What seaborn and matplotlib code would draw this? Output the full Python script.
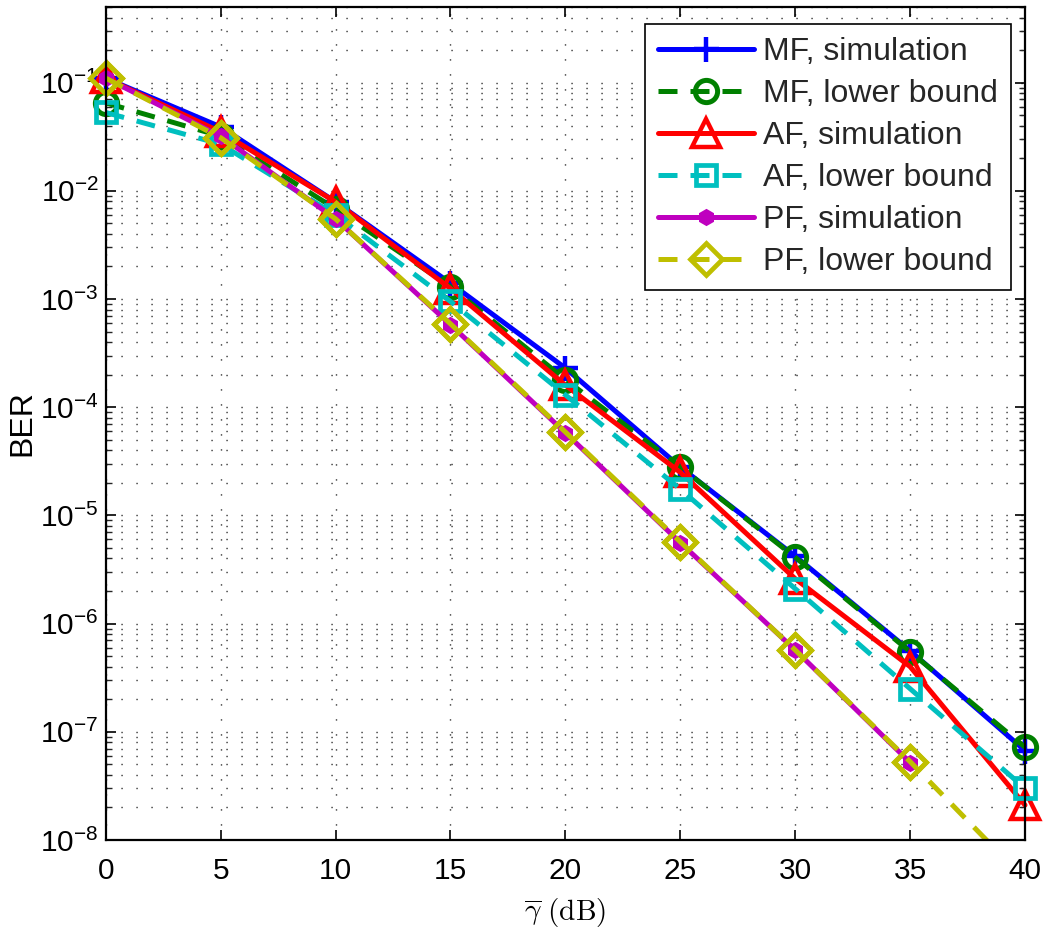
import numpy as np
import pandas as pd
import matplotlib
matplotlib.use("Agg")
import matplotlib.pyplot as plt
import seaborn as sns
from matplotlib.ticker import LogLocator, FixedLocator

# ---- data ----
snr_db = [0, 5, 10, 15, 20, 25, 30, 35, 40]
snr_pf = [0, 5, 10, 15, 20, 25, 30, 35]
mf_sim = [0.11, 0.039, 0.0079, 1.4e-3, 2.3e-4, 2.8e-5, 4.2e-6, 5.6e-7, 6.7e-8]
mf_lb = [0.065, 0.032, 0.0068, 1.3e-3, 1.8e-4, 2.8e-5, 4.1e-6, 5.5e-7, 7.2e-8]
af_sim = [0.11, 0.035, 0.0079, 1.25e-3, 1.6e-4, 2.5e-5, 2.6e-6, 4.0e-7, 2.1e-8]
af_lb = [0.053, 0.027, 0.006, 9.5e-4, 1.3e-4, 1.75e-5, 2.1e-6, 2.5e-7, 3.0e-8]
pf_sim = [0.11, 0.032, 0.0055, 5.8e-4, 5.8e-5, 5.6e-6, 5.7e-7, 5.2e-8]
pf_lb = [0.11, 0.031, 0.0055, 5.9e-4, 5.9e-5, 5.7e-6, 5.7e-7, 5.3e-8, 4.3e-9]
labels = ["MF, simulation", "MF, lower bound", "AF, simulation",
          "AF, lower bound", "PF, simulation", "PF, lower bound"]
y_ticks = [1e-8, 1e-7, 1e-6, 1e-5, 1e-4, 1e-3, 1e-2, 1e-1]
x_ticks = [0, 5, 10, 15, 20, 25, 30, 35, 40]
y_min, y_max = 1e-8, 0.5

sns.set_theme(style="white")
plt.rcParams['font.family'] = ['Liberation Sans', 'DejaVu Sans']
plt.rcParams['mathtext.fontset'] = 'custom'
plt.rcParams['mathtext.rm'] = 'Liberation Sans'
plt.rcParams['mathtext.it'] = 'Liberation Sans:italic'

fig = plt.figure(figsize=(10.47, 9.36), dpi=100)
ax = fig.add_axes([0.101, 0.1026, 0.878, 0.8899])

dash = (0, (3.8, 2.6))
lw = 3.6
series = [
    (snr_db, mf_sim, (0, 0, 1), '+', '-', 18, 'none', 3.2),
    (snr_db, mf_lb, (0, 0.5, 0), 'o', dash, 16, 'none', 3.6),
    (snr_db, af_sim, (1, 0, 0), '^', '-', 20, 'none', 3.2),
    (snr_db, af_lb, (0, 0.75, 0.75), 's', dash, 15, 'none', 3.4),
    (snr_pf, pf_sim, (0.75, 0, 0.75), 'h', '-', 9, (0.75, 0, 0.75), 3),
    (snr_db, pf_lb, (0.75, 0.75, 0), 'D', dash, 16, 'none', 3.4),
]
for (xs, ys, col, mk, ls, ms, mfc, mew), lab in zip(series, labels):
    df = pd.DataFrame({"x": xs, "y": ys})
    inside = bool(min(ys) >= y_min)
    sns.lineplot(data=df, x="x", y="y", ax=ax, color=col, marker=mk,
                 linestyle=ls, linewidth=lw, markersize=ms,
                 markerfacecolor=mfc, markeredgecolor=col,
                 markeredgewidth=mew, label=lab, clip_on=not inside)
    if not inside:
        # markers that are within the axes range are drawn unclipped (as MATLAB does)
        dfi = df[df["y"] >= y_min]
        sns.lineplot(data=dfi, x="x", y="y", ax=ax, color=col, marker=mk,
                     linestyle='none', markersize=ms, markerfacecolor=mfc,
                     markeredgecolor=col, markeredgewidth=mew,
                     label='_nolegend_', clip_on=False)

ax.set_yscale('log')
ax.set_xlim(0, 40)
ax.set_ylim(y_min, y_max)
ax.xaxis.set_major_locator(FixedLocator(x_ticks))
ax.yaxis.set_major_locator(FixedLocator(y_ticks))
ax.yaxis.set_minor_locator(LogLocator(base=10, subs=np.arange(2, 10), numticks=20))
ax.set_xticklabels([str(v) for v in x_ticks])
ax.set_yticklabels([r'$\mathregular{10^{%d}}$' % int(np.log10(v)) for v in y_ticks])

grid_ls = (0, (0.8, 10))
ax.grid(True, which='major', axis='both', color='black', linestyle=grid_ls, linewidth=1.0)
ax.grid(True, which='minor', axis='y', color='black', linestyle=grid_ls, linewidth=1.0)
ax.set_axisbelow(True)

for s in ax.spines.values():
    s.set_visible(True)
    s.set_color('black')
    s.set_linewidth(1.6)
ax.tick_params(axis='both', which='major', direction='in', length=7, width=1.2,
               top=True, right=True, bottom=True, left=True, labelsize=21.5,
               colors='black')
ax.tick_params(axis='x', which='major', pad=12)
ax.tick_params(axis='y', which='major', pad=5)
ax.tick_params(axis='y', which='minor', direction='in', length=4, width=1.0,
               left=True, right=True)

xl = ax.set_xlabel(r'$\overline{\gamma}\ \mathrm{(dB)}$', fontsize=21, color='black', labelpad=8)
xl.set_math_fontfamily('cm')
ax.set_ylabel('BER', fontsize=23, color='black', labelpad=2)

leg = ax.legend(loc='upper right', bbox_to_anchor=(0.9656, 0.9744),
                bbox_transform=fig.transFigure, borderaxespad=0,
                fontsize=23, handlelength=3.0, labelspacing=0.38,
                handletextpad=0.3, borderpad=0.4, fancybox=False,
                framealpha=1, edgecolor='black')
leg.get_frame().set_linewidth(1.2)

fig.savefig("out.png", dpi=100)
